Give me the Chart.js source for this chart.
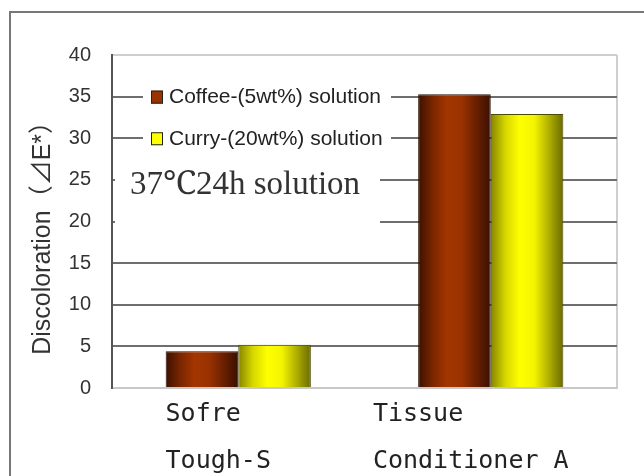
<!DOCTYPE html>
<html>
<head>
<meta charset="utf-8">
<script src="https://cdn.jsdelivr.net/npm/chart.js@4"></script>
<style>
  html, body { margin: 0; padding: 0; background: #fff; overflow: hidden; }
  #frame { position: absolute; left: 9px; top: 11px; width: 800px; height: 600px;
           border-top: 2px solid #777; border-left: 2px solid #777; }
  #wrap { position: absolute; left: 0; top: 0; width: 644px; height: 500px; }
</style>
</head>
<body>
<div id="frame"></div>
<div id="wrap"><canvas id="chart" width="644" height="500"></canvas></div>
<script>
// --- data ---
const categories = [['Sofre', 'Tough-S'], ['Tissue', 'Conditioner A']];
const seriesNames = ['Coffee-(5wt%) solution', 'Curry-(20wt%) solution'];
const coffee = [4.4, 35.3];
const curry = [5.2, 32.9];
const yTicks = [0, 5, 10, 15, 20, 25, 30, 35, 40];
const note = '37\u210324h solution';
const yTitle = 'Discoloration\uFF08\u22BFE*\uFF09';

// shading of the bars (dark edges, light middle)
const shades = [
  ['#3a1000', '#7a2600', '#a33600', '#993200', '#6a2000', '#3a1000'],
  ['#858500', '#d6d600', '#ffff00', '#f4f400', '#b0b000', '#6a6a00']
];
const swatch = ['#993300', '#ffff00'];

// left-justify the lines of a multi-line label (monospace font)
const block = lines => {
  const n = Math.max(...lines.map(l => l.length));
  return lines.map(l => l.padEnd(n, ' '));
};

const barShade = {
  id: 'barShade',
  afterDatasetsUpdate(chart) {
    const ctx = chart.ctx;
    chart.data.datasets.forEach((ds, di) => {
      chart.getDatasetMeta(di).data.forEach(el => {
        const g = ctx.createLinearGradient(el.x - el.width / 2, 0, el.x + el.width / 2, 0);
        const s = shades[di];
        s.forEach((c, k) => g.addColorStop(k / (s.length - 1), c));
        el.options = Object.assign({}, el.options, { backgroundColor: g });
      });
    });
  }
};

// legend + note drawn inside the plot on white boxes
const insideText = {
  id: 'insideText',
  beforeDatasetsDraw(chart) {
    const ctx = chart.ctx;
    const y = chart.scales.y;
    const a = chart.chartArea;
    ctx.save();
    ctx.fillStyle = '#fff';
    ctx.fillRect(143, y.getPixelForValue(36.5), 248, y.getPixelForValue(28.5) - y.getPixelForValue(36.5));
    ctx.fillRect(a.left + 3, y.getPixelForValue(27.5), 265, y.getPixelForValue(18) - y.getPixelForValue(27.5));

    ctx.font = '21px "Liberation Sans", Arial, sans-serif';
    ctx.textBaseline = 'middle';
    ctx.textAlign = 'left';
    chart.data.datasets.forEach((ds, i) => {
      const cy = y.getPixelForValue(yTicks[7 - i]);
      ctx.fillStyle = swatch[i];
      ctx.fillRect(151, cy - 6, 12, 13);
      ctx.strokeStyle = '#222';
      ctx.lineWidth = 1;
      ctx.strokeRect(151.5, cy - 5.5, 11, 12);
      ctx.fillStyle = '#222';
      ctx.fillText(ds.label, 169, cy + 1);
    });

    ctx.font = '33px "Liberation Serif", "Noto Serif", serif';
    ctx.fillStyle = '#333';
    ctx.fillText(note, 130, y.getPixelForValue(24.4));
    ctx.restore();
  }
};

new Chart(document.getElementById('chart'), {
  type: 'bar',
  data: {
    labels: categories.map(block),
    datasets: [
      { label: seriesNames[0], data: coffee, backgroundColor: swatch[0], borderColor: '#2a1000', borderWidth: 1 },
      { label: seriesNames[1], data: curry, backgroundColor: swatch[1], borderColor: '#4a4a00', borderWidth: 1 }
    ]
  },
  options: {
    responsive: false,
    animation: false,
    events: [],
    layout: { padding: { top: 55, right: 27, left: 0, bottom: 0 } },
    datasets: { bar: { categoryPercentage: 0.575, barPercentage: 1 } },
    plugins: { legend: { display: false }, tooltip: { enabled: false } },
    scales: {
      x: {
        afterFit(s) { s.height = 112; s.paddingLeft = 0; s.paddingRight = 0; },
        border: { color: '#c8c8c8', width: 2 },
        grid: {
          drawTicks: false,
          lineWidth: 2,
          color: c => c.type === 'scale' ? '#cfcfcf' : 'rgba(0,0,0,0)'
        },
        ticks: {
          labelOffset: -20,
          padding: 3,
          color: '#222',
          font: { family: '"DejaVu Sans Mono", monospace', size: 25, lineHeight: 1.88 }
        }
      },
      y: {
        min: 0,
        max: 40,
        afterFit(s) { s.width = 112; },
        afterBuildTicks(s) { s.ticks = yTicks.map(v => ({ value: v })); },
        border: { color: '#555', width: 2 },
        grid: {
          drawTicks: false,
          lineWidth: 2,
          color: c => (c.tick && (c.tick.value === 0 || c.tick.value === 40)) ? '#cfcfcf' : '#6e6e6e'
        },
        ticks: {
          padding: 21,
          color: '#333',
          font: { family: '"Liberation Sans", Arial, sans-serif', size: 20 }
        },
        title: {
          display: true,
          text: yTitle + '   ',
          color: '#333',
          padding: { top: 28, bottom: 0 },
          font: { family: '"Liberation Sans", "Noto Sans CJK JP", sans-serif', size: 25 }
        }
      }
    }
  },
  plugins: [barShade, insideText]
});
</script>
</body>
</html>
